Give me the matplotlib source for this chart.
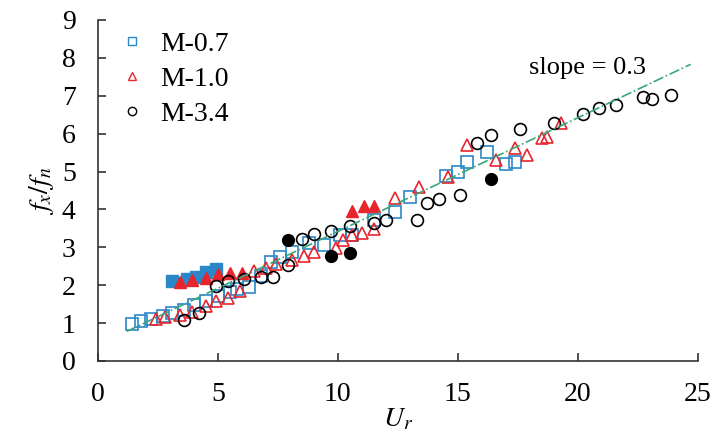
import numpy as np
import matplotlib
matplotlib.use('Agg')
import matplotlib.pyplot as plt
from matplotlib.lines import Line2D

plt.rcParams['font.family'] = 'Liberation Serif'
plt.rcParams['mathtext.fontset'] = 'stix'
plt.rcParams['font.size'] = 20

# M-0.7 (open and filled squares)
u_07 = [1.4, 1.8, 2.2, 2.7, 3.1, 3.6, 4.0, 4.5, 5.0, 5.5, 5.8, 6.3, 6.8, 7.2, 7.6,
        8.1, 8.8, 9.4, 10.1, 10.6, 11.5, 12.4, 13.0, 14.5, 15.0, 15.4, 16.2, 17.0, 17.4]
f_07 = [0.98, 1.06, 1.12, 1.19, 1.26, 1.34, 1.47, 1.59, 1.71, 1.83, 1.90, 1.96, 2.24, 2.62, 2.75,
        2.88, 3.11, 3.07, 3.33, 3.33, 3.72, 3.94, 4.34, 4.88, 4.99, 5.26, 5.52, 5.21, 5.26]
u_07f = [3.1, 3.7, 4.1, 4.5, 4.9]
f_07f = [2.12, 2.17, 2.22, 2.34, 2.44]

# M-1.0 (open and filled triangles)
u_10 = [2.4, 2.8, 3.4, 3.9, 4.5, 4.9, 5.4, 5.9, 6.5, 7.0, 7.4, 8.1, 8.6, 9.0, 9.9,
        10.2, 10.6, 11.0, 11.5, 12.4, 13.4, 14.6, 15.4, 16.6, 17.4, 17.9, 18.5, 18.7, 19.3]
f_10 = [1.12, 1.15, 1.21, 1.28, 1.45, 1.58, 1.65, 1.85, 2.37, 2.46, 2.57, 2.66, 2.77, 2.88, 2.97,
        3.20, 3.33, 3.37, 3.48, 4.29, 4.60, 4.86, 5.70, 5.30, 5.62, 5.43, 5.88, 5.92, 6.28]
u_10f = [3.4, 3.9, 4.5, 5.0, 5.5, 6.0, 10.6, 11.1, 11.5]
f_10f = [2.09, 2.14, 2.18, 2.29, 2.32, 2.32, 3.95, 4.10, 4.10]

# M-3.4 (open and filled circles)
u_34 = [3.6, 4.2, 4.9, 5.4, 6.1, 6.8, 7.3, 7.9, 8.5, 9.0, 9.7, 10.5, 11.5, 12.0, 13.3,
        13.7, 14.2, 15.1, 15.8, 16.4, 17.6, 19.0, 20.2, 20.9, 21.6, 22.7, 23.1, 23.9]
f_34 = [1.09, 1.26, 1.99, 2.11, 2.16, 2.21, 2.21, 2.54, 3.21, 3.35, 3.44, 3.56, 3.63, 3.72, 3.72,
        4.16, 4.27, 4.39, 5.74, 5.97, 6.11, 6.29, 6.51, 6.69, 6.75, 6.96, 6.91, 7.02]
u_34f = [7.9, 9.7, 10.5, 16.4]
f_34f = [3.20, 2.77, 2.84, 4.79]

# fitted line
slope = 0.3
intercept = 0.42
u_fit = [1.2, 24.7]

blue = '#2a88c8'
red = '#e8242c'

fig = plt.figure(figsize=(7.15, 4.44), dpi=100)
ax = fig.add_axes([0.137, 0.187, 0.839, 0.768])

ms = 8.5
ax.plot(u_07, f_07, 's', mfc='none', mec=blue, mew=1.2, ms=ms)
ax.plot(u_07f, f_07f, 's', mfc=blue, mec=blue, ms=ms)
ax.plot(u_10, f_10, '^', mfc='none', mec=red, mew=1.2, ms=ms + 0.5)
ax.plot(u_10f, f_10f, '^', mfc=red, mec=red, ms=ms + 0.5)
ax.plot(u_34, f_34, 'o', mfc='none', mec='black', mew=1.2, ms=ms)
ax.plot(u_34f, f_34f, 'o', mfc='black', mec='black', ms=ms)

xf = np.array(u_fit)
ax.plot(xf, slope * xf + intercept, linestyle='-.', color='#3aa57a', lw=1.2)
ax.text(20.4, 7.72, 'slope = %.1f' % slope, ha='center', va='center', fontsize=19)

handles = [
    Line2D([], [], marker='s', ls='none', mfc='none', mec=blue, ms=6),
    Line2D([], [], marker='^', ls='none', mfc='none', mec=red, ms=6),
    Line2D([], [], marker='o', ls='none', mfc='none', mec='black', ms=6),
]
ax.legend(handles, ['M-0.7', 'M-1.0', 'M-3.4'], loc='upper left', frameon=False,
          fontsize=20, labelspacing=0.35, handletextpad=0.5, handlelength=1.0,
          borderaxespad=0.0, bbox_to_anchor=(0.015, 1.0))

ax.set_xlim(0, 25)
ax.set_ylim(0, 9)
ax.set_xticks(range(0, 26, 5))
ax.set_yticks(range(0, 10))
ax.spines['top'].set_visible(False)
ax.spines['right'].set_visible(False)
for s in ['left', 'bottom']:
    ax.spines[s].set_color('#333333')
    ax.spines[s].set_linewidth(1.2)
ax.tick_params(axis='both', direction='in', length=6, width=1.2, color='#333333', labelsize=20)
ax.tick_params(axis='y', pad=16)
ax.tick_params(axis='x', pad=15)
ax.set_xlabel('$U_r$', fontsize=20, labelpad=0)
ax.set_ylabel('$f_x/f_n$', fontsize=20, labelpad=4)

plt.savefig('out.png', dpi=100)
